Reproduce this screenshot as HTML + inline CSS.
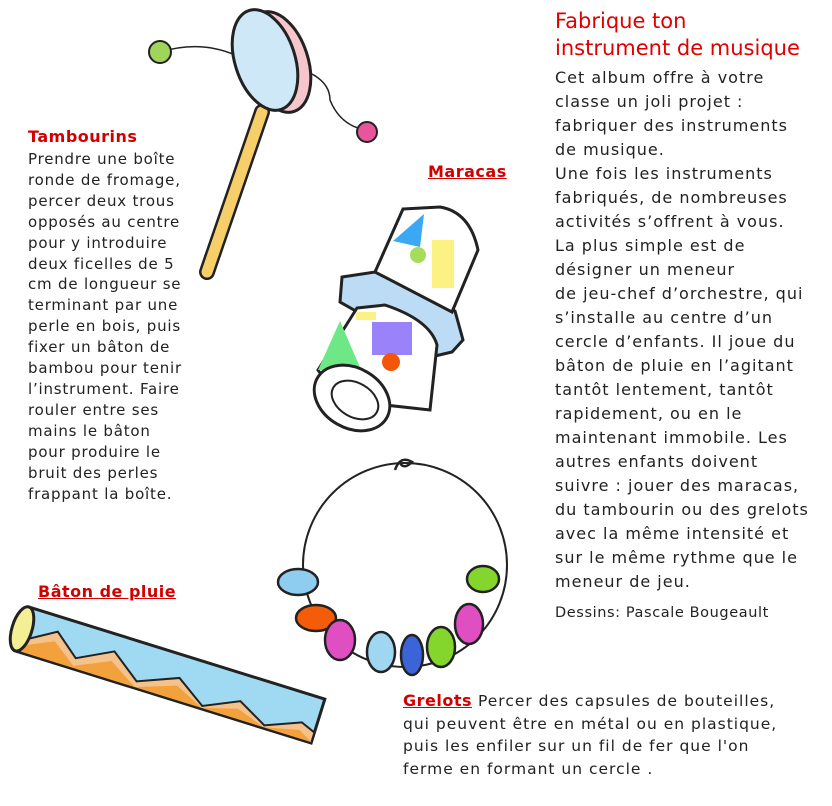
<!DOCTYPE html>
<html><head><meta charset="utf-8"><style>
body{margin:0;width:832px;height:806px;background:#fff;position:relative;overflow:hidden;font-family:"DejaVu Sans","Liberation Sans",sans-serif;color:#222}
.t{position:absolute;white-space:nowrap}
.h{color:#d40000;font-weight:bold;font-size:16px;letter-spacing:0.5px}
.u{text-decoration:underline}
svg{position:absolute;left:0;top:0}
</style></head><body>
<svg width="832" height="806" viewBox="0 0 832 806">
<path d="M160 52 Q200 40 235 55 Q255 62 262 66" fill="none" stroke="#222" stroke-width="1.5"/>
<path d="M268 62 Q330 70 330 100 Q340 125 365 130" fill="none" stroke="#222" stroke-width="1.5"/>
<line x1="262" y1="112" x2="207" y2="272" stroke="#222" stroke-width="16" stroke-linecap="round"/>
<line x1="262" y1="112" x2="207" y2="272" stroke="#f7cf6a" stroke-width="11" stroke-linecap="round"/>
<ellipse cx="278" cy="62" rx="30" ry="52" transform="rotate(-18 278 62)" fill="#f6c6cc" stroke="#222" stroke-width="3"/>
<ellipse cx="265" cy="60" rx="30" ry="52" transform="rotate(-18 265 60)" fill="#cfe8f7" stroke="#222" stroke-width="3"/>
<circle cx="160" cy="52" r="11" fill="#9fd55a" stroke="#222" stroke-width="2"/>
<circle cx="367" cy="132" r="10" fill="#e8559c" stroke="#222" stroke-width="2"/>
<path d="M342 277 L375 272 L455 311 L463 340 L452 352 L435 356 L340 302 Z" fill="#bcdcf5" stroke="#222" stroke-width="3"/>
<path d="M403 209 L440 207 Q470 212 478 250 L452 312 L375 272 Z" fill="#fff" stroke="#222" stroke-width="3"/>
<polygon points="393,241 424,214 420,247" fill="#3ba8f3"/>
<circle cx="418" cy="255" r="8" fill="#a6dc5a"/>
<rect x="432" y="240" width="22" height="48" fill="#fbf283"/>
<path d="M357 308 L385 305 Q430 320 437 345 L430 410 L340 400 L318 370 Z" fill="#fff" stroke="#222" stroke-width="3"/>
<polygon points="340,321 318,370 362,372" fill="#6ee787"/>
<rect x="372" y="322" width="40" height="33" fill="#9a82fb"/>
<circle cx="391" cy="362" r="9" fill="#f45507"/>
<rect x="356" y="312" width="20" height="8" fill="#fbf283"/>
<ellipse cx="352" cy="398" rx="40" ry="30" transform="rotate(30 352 398)" fill="#fff" stroke="#222" stroke-width="3"/>
<ellipse cx="355" cy="400" rx="25" ry="17" transform="rotate(30 355 400)" fill="none" stroke="#222" stroke-width="2"/>
<circle cx="405" cy="565" r="102" fill="none" stroke="#222" stroke-width="2"/>
<path d="M395 470 Q400 455 412 462 Q404 470 400 463" fill="none" stroke="#222" stroke-width="2.5"/>
<g stroke="#222" stroke-width="2.5">
<ellipse cx="298" cy="582" rx="20" ry="13" fill="#8fcdf0"/>
<ellipse cx="316" cy="618" rx="20" ry="13" fill="#f45c0a"/>
<ellipse cx="340" cy="640" rx="15" ry="20" fill="#e04fc2"/>
<ellipse cx="381" cy="652" rx="14" ry="20" fill="#9fd6f1"/>
<ellipse cx="412" cy="655" rx="11" ry="20" fill="#3a64d8"/>
<ellipse cx="441" cy="647" rx="14" ry="20" fill="#84d62c"/>
<ellipse cx="469" cy="624" rx="14" ry="20" fill="#e04fc2"/>
<ellipse cx="483" cy="579" rx="16" ry="13" fill="#84d62c"/>
</g>
<g transform="translate(170 675) rotate(17.3)">
<rect x="-155" y="-23" width="310" height="46" fill="#9fdaf2" stroke="#222" stroke-width="3"/>
<path d="M-150 10 L-120 -8 L-95 12 L-60 -6 L-30 16 L10 0 L40 20 L75 4 L105 20 L140 6 L155 12 L155 23 L-150 23 Z" fill="#f5c28c" stroke="#222" stroke-width="2"/>
<path d="M-150 16 L-120 2 L-95 20 L-60 4 L-30 22 L-150 22 Z M10 8 L40 22 L-30 22 Z M75 12 L105 22 L40 22 Z M140 14 L155 22 L105 22 Z" fill="#f3a13c"/>
<ellipse cx="-155" cy="0" rx="10" ry="23" fill="#f3ef95" stroke="#222" stroke-width="3"/>
</g>
</svg>

<div class="t" style="left:555px;top:8px;color:#e00000;font-size:21px;line-height:27px">Fabrique ton<br>instrument de musique</div>
<div class="t" style="left:555px;top:66px;font-size:16px;line-height:24px;letter-spacing:1px">Cet album offre à votre<br>classe un joli projet :<br>fabriquer des instruments<br>de musique.<br>Une fois les instruments<br>fabriqués, de nombreuses<br>activités s’offrent à vous.<br>La plus simple est de<br>désigner un meneur<br>de jeu-chef d’orchestre, qui<br>s’installe au centre d’un<br>cercle d’enfants. Il joue du<br>bâton de pluie en l’agitant<br>tantôt lentement, tantôt<br>rapidement, ou en le<br>maintenant immobile. Les<br>autres enfants doivent<br>suivre : jouer des maracas,<br>du tambourin ou des grelots<br>avec la même intensité et<br>sur le même rythme que le<br>meneur de jeu.</div>
<div class="t" style="left:555px;top:605px;font-size:14.5px;letter-spacing:0.6px">Dessins: Pascale Bougeault</div>

<div class="t h" style="left:28px;top:127px">Tambourins</div>
<div class="t" style="left:28px;top:149px;font-size:15px;line-height:20.9px;letter-spacing:0.8px">Prendre une boîte<br>ronde de fromage,<br>percer deux trous<br>opposés au centre<br>pour y introduire<br>deux ficelles de 5<br>cm de longueur se<br>terminant par une<br>perle en bois, puis<br>fixer un bâton de<br>bambou pour tenir<br>l’instrument. Faire<br>rouler entre ses<br>mains le bâton<br>pour produire le<br>bruit des perles<br>frappant la boîte.</div>

<div class="t h u" style="left:428px;top:162px">Maracas</div>
<div class="t h u" style="left:38px;top:582px">Bâton de pluie</div>
<div class="t" style="left:403px;top:690px;font-size:15.5px;line-height:22.5px;letter-spacing:1px"><span class="h u">Grelots</span> Percer des capsules de bouteilles,<br>qui peuvent être en métal ou en plastique,<br>puis les enfiler sur un fil de fer que l'on<br>ferme en formant un cercle .</div>
</body></html>
